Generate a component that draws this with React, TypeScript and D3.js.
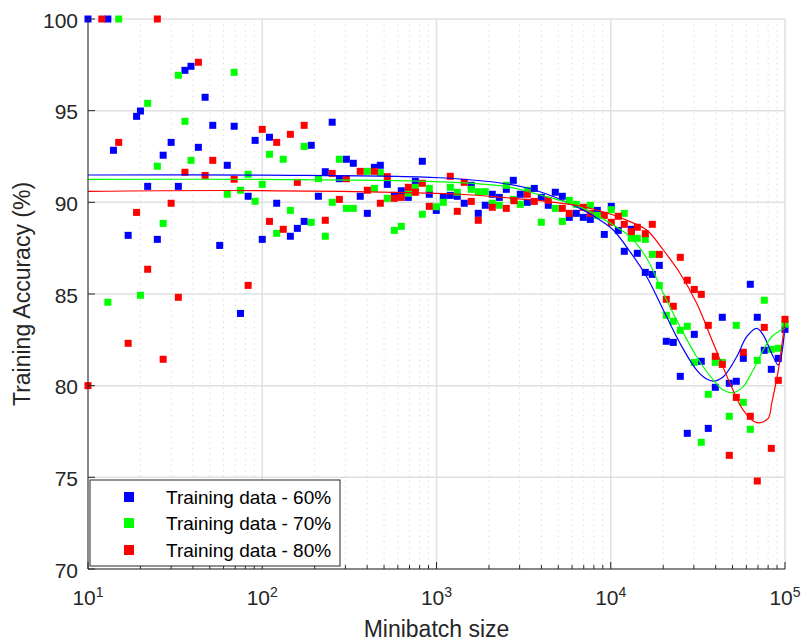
import React from 'react';
import * as d3 from 'd3';

// ---------- data (minibatch size, training accuracy %) ----------
const series60: [number, number][] = [
  [10, 100], [13, 100], [14, 92.84], [17, 88.2], [19, 94.69], [20, 94.98], [22, 90.87], [25, 87.98],
  [27, 92.57], [30, 93.27], [33, 90.87], [36, 97.2], [39, 97.42], [43, 93.0], [47, 95.73], [52, 94.2],
  [57, 87.65], [63, 92.02], [69, 94.15], [75, 83.94], [83, 90.33], [91, 93.38], [100, 87.98], [110, 93.55],
  [121, 89.95], [145, 88.15], [159, 88.58], [174, 88.96], [191, 93.11], [210, 90.33], [230, 91.67], [252, 94.37],
  [277, 91.29], [304, 92.35], [333, 92.13], [365, 90.33], [401, 89.4], [440, 91.91], [476, 92.02], [522, 90.98],
  [573, 90.38], [628, 90.63], [689, 90.27], [756, 91.15], [829, 92.24], [909, 90.44], [997, 89.56], [1094, 90.27],
  [1200, 90.38], [1316, 90.33], [1443, 89.95], [1583, 90.93], [1737, 89.4], [1905, 89.84], [2090, 90.44], [2293, 90.27],
  [2515, 90.71], [2759, 91.2], [3026, 90.44], [3319, 90.0], [3641, 90.76], [3994, 90.27], [4381, 89.84], [4806, 90.55],
  [5272, 90.33], [5783, 89.18], [6344, 89.4], [6958, 89.18], [7633, 89.07], [8373, 89.56], [9184, 88.25], [10072, 89.78],
  [11049, 88.47], [11960, 87.33], [13119, 88.53], [14207, 87.22], [15785, 86.18], [17315, 86.07], [18993, 86.56],
  [20834, 82.42], [22856, 82.36], [25066, 80.51], [27496, 77.4], [30162, 82.8], [33086, 81.33], [36292, 77.67],
  [39810, 79.91], [43670, 83.73], [47900, 80.13], [52550, 80.24], [57640, 81.49], [63230, 85.53], [69340, 83.73],
  [76060, 81.93], [83440, 80.89], [91530, 81.49], [100000, 83.07],
];

const series70: [number, number][] = [
  [13, 84.55], [15, 100], [20, 84.93], [22, 95.4], [25, 91.97], [27, 88.85], [33, 96.93], [36, 94.42],
  [39, 92.29], [63, 90.44], [69, 97.09], [75, 90.66], [83, 91.53], [91, 90.06], [100, 90.98], [110, 92.62],
  [121, 88.31], [132, 92.35], [145, 89.56], [174, 93.05], [191, 88.91], [210, 91.29], [230, 88.15], [252, 90.0],
  [277, 92.35], [304, 89.67], [333, 89.67], [401, 91.69], [440, 90.76], [476, 91.62], [522, 90.22], [573, 88.47],
  [628, 88.69], [689, 90.5], [756, 90.82], [829, 89.35], [909, 90.76], [997, 89.76], [1094, 90.0], [1200, 90.82],
  [1316, 90.55], [1583, 90.71], [1737, 90.58], [1905, 90.58], [2090, 89.95], [2293, 89.84], [2515, 90.93], [2759, 90.16],
  [3026, 89.89], [3319, 90.66], [3994, 88.91], [4806, 89.67], [5272, 88.96], [5783, 90.11], [6344, 89.89], [7633, 89.84],
  [8373, 89.29], [10072, 89.6], [11960, 89.4], [13119, 88.04], [14207, 88.04], [15785, 87.98], [17315, 87.16],
  [18993, 85.47], [20834, 83.84], [22856, 83.51], [25066, 83.02], [27496, 83.24], [30162, 81.27], [33086, 76.91],
  [36292, 79.53], [39810, 81.27], [43670, 81.27], [47900, 78.33], [52550, 83.29], [57640, 79.09], [63230, 77.62],
  [69340, 81.38], [76060, 84.66], [83440, 81.98], [91530, 82.04], [100000, 83.35],
];

const series80: [number, number][] = [
  [10, 80.0], [12, 100], [15, 93.27], [17, 82.31], [19, 89.45], [22, 86.35], [25, 100], [27, 81.44],
  [30, 89.95], [33, 84.82], [36, 91.64], [43, 97.64], [47, 91.47], [52, 92.29], [69, 91.26], [83, 85.47],
  [100, 93.98], [110, 88.96], [121, 93.27], [132, 88.53], [145, 93.71], [159, 91.09], [174, 94.2], [230, 89.02],
  [252, 91.58], [277, 90.16], [304, 91.29], [365, 91.69], [401, 90.66], [440, 91.69], [476, 89.95], [522, 91.4],
  [573, 90.22], [628, 90.27], [689, 90.82], [756, 90.55], [829, 91.04], [909, 89.78], [1200, 91.42], [1316, 89.51],
  [1443, 91.09], [1583, 90.05], [1737, 89.02], [2090, 89.73], [2515, 89.67], [2785, 90.09], [3319, 90.44], [3641, 90.05],
  [4381, 90.11], [5272, 89.67], [5783, 89.4], [6958, 89.73], [7633, 89.4], [9184, 89.29], [10072, 88.91], [11049, 89.24],
  [11960, 88.8], [13119, 88.4], [14207, 88.64], [15785, 88.29], [17315, 88.8], [18993, 87.16], [20834, 84.71],
  [22856, 84.33], [25066, 87.0], [27496, 85.75], [30162, 85.25], [33086, 84.98], [36292, 83.29], [39810, 81.6],
  [43670, 81.16], [47900, 76.2], [52550, 79.36], [57640, 81.82], [63230, 78.33], [69340, 74.8], [76060, 83.18],
  [83440, 76.58], [91530, 80.29], [100000, 83.62],
];

// smoothed fit curves
const fit60: [number, number][] = [
  [10, 91.49], [100, 91.48], [1047, 91.34], [2529, 91.0], [3926, 90.58], [6660, 89.67], [8675, 89.04],
  [10340, 88.49], [12900, 87.31], [16080, 85.94], [20030, 84.13], [24970, 82.31], [31130, 80.85], [35540, 80.36],
  [38770, 80.25], [44250, 80.49], [52820, 81.58], [60290, 82.67], [68810, 83.13], [75090, 82.76], [83880, 81.76],
  [91550, 81.13], [100000, 83.22],
];
const fit70: [number, number][] = [
  [10, 91.25], [97, 91.25], [1047, 91.12], [2529, 90.85], [3926, 90.4], [6660, 89.75], [10340, 88.76],
  [12900, 88.13], [16080, 86.95], [20030, 85.04], [24970, 83.22], [31130, 81.58], [38770, 80.31], [44250, 79.76],
  [50450, 79.62], [57540, 79.95], [65640, 80.85], [75090, 81.95], [83880, 82.67], [93600, 83.0], [100000, 83.13],
];
const fit80: [number, number][] = [
  [10, 90.6], [97, 90.64], [1364, 90.44], [2529, 90.25], [3926, 90.09], [6660, 89.8], [10340, 89.31],
  [12900, 88.95], [16080, 88.49], [20030, 87.4], [24970, 86.13], [31130, 84.49], [38770, 82.31], [48350, 80.13],
  [57540, 78.67], [68810, 77.98], [79860, 78.2], [83880, 79.04], [91550, 80.85], [100000, 83.58],
];

const seriesNames = ['Training data - 60%', 'Training data - 70%', 'Training data - 80%'];
const seriesColors = ['#0000ff', '#00ff00', '#ff0000'];
const yTicks = [70, 75, 80, 85, 90, 95, 100];
const xDecades = [1, 2, 3, 4, 5];

// ---------- layout ----------
const W = 803;
const H = 642;
const L = 88, R = 785, T = 19, B = 569;
const FONT = '"Liberation Sans", Arial, Helvetica, sans-serif';
const TXT = '#262626';

export default function App() {
  const x = d3.scaleLog().domain([10, 1e5]).range([L, R]);
  const y = d3.scaleLinear().domain([70, 100]).range([B, T]);

  const majorX = xDecades.map((d) => Math.pow(10, d));
  const minorX: number[] = [];
  xDecades.slice(0, -1).forEach((d) => {
    for (let k = 2; k <= 9; k++) minorX.push(k * Math.pow(10, d));
  });

  const line = d3
    .line<[number, number]>()
    .x((d) => x(d[0]))
    .y((d) => y(d[1]))
    .curve(d3.curveCatmullRom.alpha(0.5));

  const allSeries = [series60, series70, series80];
  const fits = [fit60, fit70, fit80];
  const ms = 7;

  const legX = 90, legY = 480, legW = 250, legH = 86;
  const rowY = [497, 523, 550];

  return (
    <svg
      width={W}
      height={H}
      style={{ position: 'absolute', left: 0, top: 0, background: '#fff' }}
      fontFamily={FONT}
    >
      <rect x={0} y={0} width={W} height={H} fill="#fff" />
      {/* minor x grid */}
      {minorX.map((v) => (
        <line key={'mg' + v} x1={x(v)} x2={x(v)} y1={T} y2={B} stroke="#cfcfcf" strokeWidth={1} strokeDasharray="1,4.5" />
      ))}
      {/* major grid */}
      {majorX.map((v) => (
        <line key={'Mg' + v} x1={x(v)} x2={x(v)} y1={T} y2={B} stroke="#e0e0e0" strokeWidth={1.5} />
      ))}
      {yTicks.map((v) => (
        <line key={'yg' + v} x1={L} x2={R} y1={y(v)} y2={y(v)} stroke="#e0e0e0" strokeWidth={1.5} />
      ))}

      {/* markers */}
      {allSeries.map((s, i) => (
        <g key={'s' + i} fill={seriesColors[i]}>
          {s.map((d, j) => (
            <rect key={j} x={x(d[0]) - ms / 2} y={y(d[1]) - ms / 2} width={ms} height={ms} />
          ))}
        </g>
      ))}

      {/* fit lines */}
      {fits.map((f, i) => (
        <path key={'f' + i} d={line(f) || ''} fill="none" stroke={seriesColors[i]} strokeWidth={1.2} />
      ))}

      {/* axes */}
      <line x1={L} x2={L} y1={T} y2={B} stroke={TXT} strokeWidth={1} />
      <line x1={L} x2={R} y1={B} y2={B} stroke={TXT} strokeWidth={1} />
      {yTicks.map((v) => (
        <line key={'yt' + v} x1={L} x2={L + 7} y1={y(v)} y2={y(v)} stroke={TXT} strokeWidth={1} />
      ))}
      {majorX.map((v) => (
        <line key={'xt' + v} x1={x(v)} x2={x(v)} y1={B} y2={B - 7} stroke={TXT} strokeWidth={1} />
      ))}
      {minorX.map((v) => (
        <line key={'xmt' + v} x1={x(v)} x2={x(v)} y1={B} y2={B - 4} stroke={TXT} strokeWidth={1} />
      ))}

      {/* tick labels */}
      {yTicks.map((v) => (
        <text key={'yl' + v} x={L - 10} y={y(v) + 8.5} textAnchor="end" fontSize={21} fill={TXT}>
          {v}
        </text>
      ))}
      {xDecades.map((d) => (
        <text key={'xl' + d} x={x(Math.pow(10, d))} y={605} textAnchor="middle" fontSize={21} fill={TXT}>
          <tspan>10</tspan>
          <tspan dy={-8} fontSize={14}>{d}</tspan>
        </text>
      ))}

      {/* axis labels */}
      <text x={(L + R) / 2} y={637} textAnchor="middle" fontSize={23} fill={TXT}>
        Minibatch size
      </text>
      <text
        transform={`translate(30, ${(T + B) / 2}) rotate(-90)`}
        textAnchor="middle"
        fontSize={23}
        fill={TXT}
      >
        Training Accuracy (%)
      </text>

      {/* legend */}
      <rect x={legX} y={legY} width={legW} height={legH} fill="#fff" stroke={TXT} strokeWidth={1} />
      {seriesNames.map((n, i) => (
        <g key={'lg' + i}>
          <rect x={129 - 5} y={rowY[i] - 5} width={10} height={10} fill={seriesColors[i]} />
          <text x={166} y={rowY[i] + 6.8} fontSize={19} fill="#000">
            {n}
          </text>
        </g>
      ))}
    </svg>
  );
}
